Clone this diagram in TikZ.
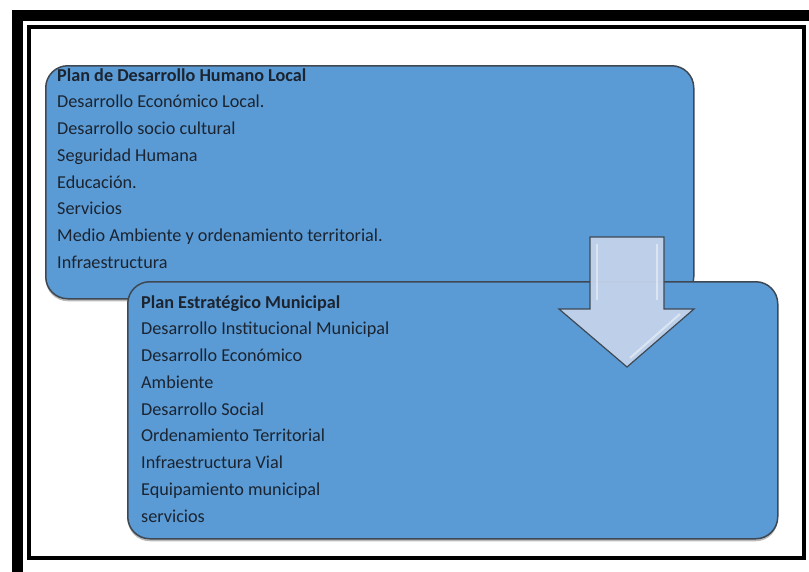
\documentclass[tikz,border=0pt]{standalone}
\usepackage{fontspec}
\setmainfont{Carlito}
\usepackage{tikz}
\usetikzlibrary{positioning, shadows}
\definecolor{boxblue}{HTML}{5B9BD5}
\definecolor{boxedge}{HTML}{3E4853}
\definecolor{arrowfill}{HTML}{C6D5EB}
\definecolor{txtdark}{HTML}{1B2430}
\tikzstyle{plan}=[draw=boxedge, line width=1.5pt, fill=boxblue, rounded corners=22pt, anchor=north west, inner sep=0pt, drop shadow={shadow xshift=0pt, shadow yshift=-2.5pt, opacity=.55}]
\tikzstyle{head}=[font=\fontsize{18.2}{21}\selectfont\bfseries, text=txtdark, inner sep=0pt, anchor=base west]
\tikzstyle{item}=[font=\fontsize{18.2}{21}\selectfont, text=txtdark, inner sep=0pt, anchor=base west]
\tikzstyle{shine}=[draw=white, opacity=.45, line width=2pt]

\begin{document}
\begin{tikzpicture}[x=1pt, y=-1pt]
\useasboundingbox (0,0) rectangle (809,571);
\clip (0,0) rectangle (809,571);

% page frame
\draw[line width=11pt] (17.5,15.5) rectangle (830,590);
\draw[line width=4pt] (29,27) rectangle (804,558);

% Plan de Desarrollo Humano Local
\node[plan, minimum width=648pt, minimum height=233pt](pdhl) at (45,65){};
\node[head](pdhlt) at (57,81){Plan de Desarrollo Humano Local};
\foreach \txt [count=\i] in {Desarrollo Económico Local., Desarrollo socio cultural, Seguridad Humana, Educación., Servicios, Medio Ambiente y ordenamiento territorial., Infraestructura}
  \node[item](pdhl\i) at (57,{81+26.75*\i}){\txt};

% Plan Estratégico Municipal
\node[plan, minimum width=650pt, minimum height=257pt](pem) at (127,281){};
\node[head](pemt) at (141,308){Plan Estratégico Municipal};
\foreach \txt [count=\i] in {Desarrollo Institucional Municipal, Desarrollo Económico, Ambiente, Desarrollo Social, Ordenamiento Territorial, Infraestructura Vial, Equipamiento municipal, servicios}
  \node[item](pem\i) at (141,{308+26.75*\i}){\txt};

% down arrow
\draw[draw=boxedge, line width=1.2pt, fill=arrowfill, fill opacity=.93, line join=miter]
  (590,237) -- (664,237) -- (664,309) -- (694,309) -- (627,367) -- (559,309) -- (590,309) -- cycle;
\draw[shine] (597,244) -- (597,300);
\draw[shine] (657,244) -- (657,300);
\draw[shine] (680,314) -- (630,358);
%\draw[shine] (590,237) -- (664,237);
\end{tikzpicture}
\end{document}
